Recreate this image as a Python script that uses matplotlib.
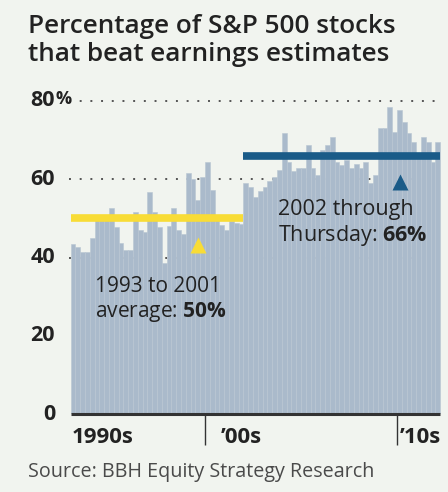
import matplotlib
matplotlib.use("Agg")
import matplotlib.pyplot as plt
import numpy as np

# Quarterly share of S&P 500 companies beating estimates, 1993 Q1 onward
pct_1993_2001 = [43.5, 42.8, 41.5, 41.5, 45, 50.4, 50, 50, 52.6, 47.9,
                 43.7, 42, 42, 51.7, 47, 46.5, 56.8, 51.7, 47.9, 38.5,
                 48, 52.6, 47, 46, 61.5, 60, 54.7, 60.7, 64.5, 57.3,
                 50.4, 48.3, 47, 49.3, 48.7, 48.5]
pct_2002_on = [59, 58, 55.5, 57, 58, 59.5, 60.5, 62.4, 71.8, 64.5,
               62, 63, 63, 68.8, 63, 61, 67.5, 68.8, 70.9, 64.5,
               63.7, 65, 63, 64, 63, 64.5, 59, 61, 73, 73,
               78.5, 72, 77.7, 74.7, 71.8, 69.6, 65.8, 70.9, 69.6, 64.5,
               69.6]
avg_early = 50
avg_late = 66
y_ticks = [0, 20, 40, 60, 80]
decades = [(1990, "1990s"), (2000, "\u201900s"), (2010, "\u201910s")]

values = np.array(pct_1993_2001 + pct_2002_on)
quarters = 1993 + np.arange(len(values)) / 4
split = 1993 + len(pct_1993_2001) / 4
end = quarters[-1] + 0.25

bg = "#f1f4ef"
bar_col = "#aabacb"
yellow = "#f8dc36"
blue = "#1a5b88"
ink = "#222222"

plt.rcParams["font.family"] = ["Open Sans", "DejaVu Sans"]
plt.rcParams["mathtext.fontset"] = "custom"
plt.rcParams["mathtext.rm"] = "Open Sans"
plt.rcParams["mathtext.bf"] = "Open Sans:bold"

fig = plt.figure(figsize=(4.48, 4.92), dpi=100, facecolor=bg)
# axes spans the whole width; 0 sits at 414 px from top, 80 at 101 px
ax = fig.add_axes([0, 78 / 492, 1, 324 / 492])
ax.set_facecolor(bg)
ax.set_xlim(2000 - 205 / 19.2, 2000 + 243 / 19.2)
ax.set_ylim(0, 324 / 3.9125)
ax.axis("off")

# dotted reference lines behind the bars
for v in [40, 60, 80]:
    ax.hlines(v, 1992.9, end, colors="#555555", linestyles=(0, (1, 4.5)),
              linewidth=1.4, zorder=1)

ax.bar(quarters, values, width=0.25, align="edge", color=bar_col,
       edgecolor="#b9c6d3", linewidth=0.4, zorder=2)

# period averages
ax.hlines(avg_early, 1993, split, colors=yellow, linewidth=5.5, zorder=3)
ax.hlines(avg_late, split, end, colors=blue, linewidth=5.5, zorder=3)
ax.plot(1999.64, avg_early - 6.8, marker="^", ms=12, color=yellow,
        mec="none", zorder=4)
ax.plot(2010.16, avg_late - 6.7, marker="^", ms=12, color=blue,
        mec="none", zorder=4)

ax.text(1994.25, 31.2, "1993 to 2001", fontsize=15, color=ink,
        va="baseline", zorder=5)
ax.text(1994.25, 24.8, r"average: $\mathbf{50\%}$", fontsize=15,
        color=ink, va="baseline", zorder=5)
ax.text(2003.8, 50.9, "2002 through", fontsize=15.5, color=ink,
        va="baseline", zorder=5)
ax.text(2003.8, 44.2, r"Thursday: $\mathbf{66\%}$", fontsize=15.5,
        color=ink, va="baseline", zorder=5)

# baseline and decade ticks
ax.hlines(0, 1993, end, colors="#333333", linewidth=2.2, zorder=5,
          clip_on=False)
for yr, lab in decades:
    if yr > 1993:
        ax.vlines(yr, -7.8, 0, colors="#333333", linewidth=1, clip_on=False)
    x_lab = 1993.05 if yr < 1993 else yr + (0.8 if yr == 2000 else 0.15)
    ax.text(x_lab, -7.4, lab, fontsize=16, fontweight="bold", color=ink,
            va="baseline", clip_on=False)

for v in y_ticks:
    ax.text(55 / 448, v, str(v), transform=ax.get_yaxis_transform(),
            fontsize=15.5, fontweight="bold", color=ink, ha="right",
            va="center", clip_on=False)
ax.text(55 / 448, 80.4, "%", transform=ax.get_yaxis_transform(),
        fontsize=13, fontweight="bold", color=ink, ha="left", va="center")

fig.text(28 / 448, 1 - 33 / 492, "Percentage of S&P 500 stocks",
         fontsize=18.8, fontweight="semibold", color=ink, va="baseline")
fig.text(28 / 448, 1 - 61 / 492, "that beat earnings estimates",
         fontsize=18.8, fontweight="semibold", color=ink, va="baseline")
fig.text(28 / 448, 1 - 477 / 492, "Source: BBH Equity Strategy Research",
         fontsize=14.2, color="#4a4a4a", va="baseline")

fig.savefig("out.png", dpi=100, facecolor=bg)
